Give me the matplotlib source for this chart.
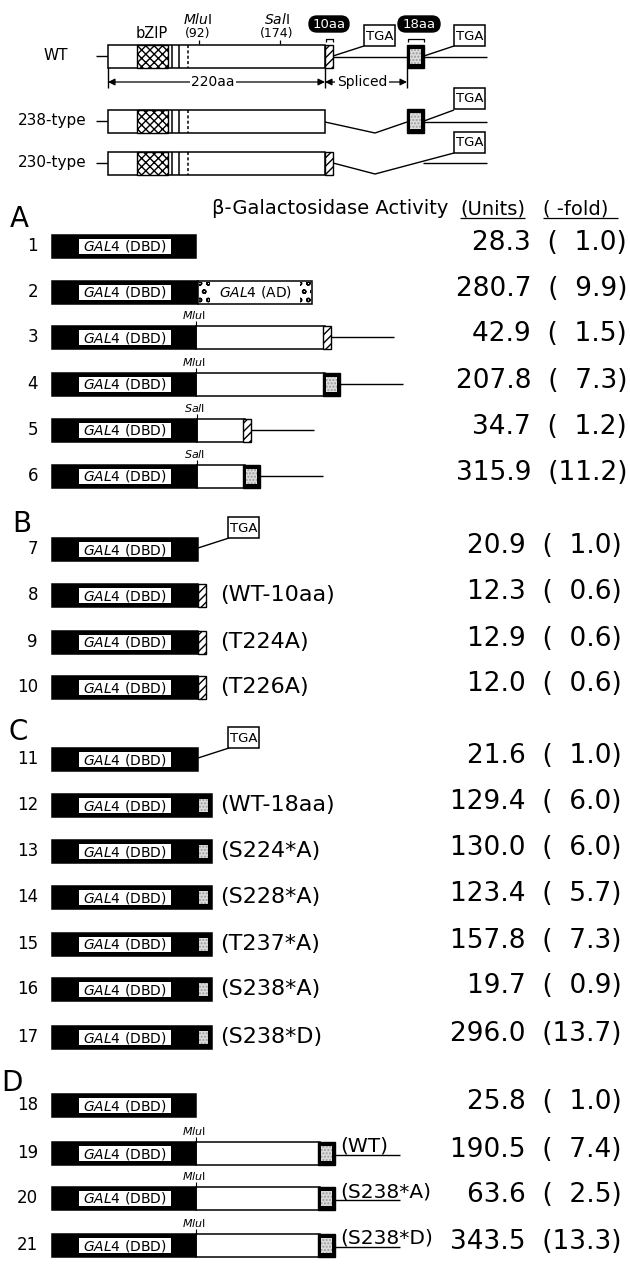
import matplotlib
matplotlib.use('Agg')
from matplotlib import pyplot as plt
from matplotlib.patches import Rectangle, FancyBboxPatch

# data
row_ids = [str(i) for i in range(1, 22)]
units = [28.3, 280.7, 42.9, 207.8, 34.7, 315.9,
         20.9, 12.3, 12.9, 12.0,
         21.6, 129.4, 130.0, 123.4, 157.8, 19.7, 296.0,
         25.8, 190.5, 63.6, 343.5]
fold = [1.0, 9.9, 1.5, 7.3, 1.2, 11.2,
        1.0, 0.6, 0.6, 0.6,
        1.0, 6.0, 6.0, 5.7, 7.3, 0.9, 13.7,
        1.0, 7.4, 2.5, 13.3]
constructs = ['dbd', 'ad', 'mlu10', 'mlu18', 'sal10', 'sal18',
              'tga', 'c10', 'c10', 'c10',
              'tga', 'c18', 'c18', 'c18', 'c18', 'c18', 'c18',
              'dbd', 'd18', 'd18', 'd18']
mutants = ['', '', '', '', '', '',
           '', '(WT-10aa)', '(T224A)', '(T226A)',
           '', '(WT-18aa)', '(S224*A)', '(S228*A)', '(T237*A)', '(S238*A)', '(S238*D)',
           '', '(WT)', '(S238*A)', '(S238*D)']
sections = ['A'] * 6 + ['B'] * 4 + ['C'] * 7 + ['D'] * 4
section_labels = ['A', 'B', 'C', 'D']

# layout (pixels)
row_y = [246, 292, 337, 384, 430, 476, 549, 595, 642, 687,
         759, 805, 851, 897, 944, 989, 1037, 1105, 1153, 1198, 1245]
sec_y = {'A': 219, 'B': 524, 'C': 732, 'D': 1083}
sec_x = {'A': 10, 'B': 12, 'C': 8, 'D': 1}
val_r = {'A': 627, 'B': 622, 'C': 622, 'D': 622}

plt.rcParams['hatch.linewidth'] = 1.0
fig = plt.figure(figsize=(6.3, 12.65), dpi=100)
ax = fig.add_axes([0, 0, 1, 1])
ax.set_xlim(0, 630)
ax.set_ylim(1265, 0)
ax.axis('off')

FS_NUM = 19
FIG_SP = '\u2007'


def box(x0, x1, y0, y1, fc='white', ec='black', hatch=None, lw=1.1, z=2):
    ax.add_patch(Rectangle((x0, y0), x1 - x0, y1 - y0, facecolor=fc,
                           edgecolor=ec, hatch=hatch, lw=lw, zorder=z))


def line(xs, ys, lw=1.0, z=1):
    ax.plot(xs, ys, color='black', lw=lw, solid_capstyle='butt', zorder=z)


def speck(x0, x1, y0, y1):
    box(x0, x1, y0, y1, fc='black', lw=1.0)
    box(x0 + 3, x1 - 3, y0 + 4, y1 - 4, fc='#dcdcdc', ec='#9a9a9a', hatch='.....', lw=0, z=3)


def tga(x0, y0):
    box(x0, x0 + 31, y0, y0 + 21, lw=1.1)
    ax.text(x0 + 15.5, y0 + 11, 'TGA', ha='center', va='center', fontsize=9.5, zorder=4)


def gal4(x0, x1, yc, h=11.5):
    box(x0, x1, yc - h, yc + h, fc='black')
    box(79, 171, yc - h + 4, yc + h - 4, fc='white', ec='white', lw=0, z=3)
    ax.text(125, yc + 0.5, r'$\mathit{GAL4}$ (DBD)', ha='center', va='center',
            fontsize=10, zorder=4)


def site(x, yc, name):
    ax.text(x - 2, yc - 16, name, ha='center', va='bottom', fontsize=8)
    line([x, x], [yc - 16, yc - 11.5], lw=0.8)


# ---------------- top schematic ----------------
def gene_box(yc, x_end, hatch_end):
    y0, y1 = yc - 11.5, yc + 11.5
    box(108, x_end, y0, y1)
    box(137, 168, y0, y1, hatch='xxxx', lw=1.0, z=3)
    line([172, 172], [y0, y1], lw=1.1, z=3)
    line([179, 179], [y0, y1], lw=1.1, z=3)
    ax.plot([188, 188], [y0, y1], color='black', lw=1.1, ls=(0, (2, 1.5)), zorder=3)
    if hatch_end:
        box(x_end, x_end + 8, y0, y1, hatch='////', lw=1.0)


for lab, yc in [('WT', 56), ('238-type', 121), ('230-type', 163)]:
    ax.text(87 if lab != 'WT' else 68, yc, lab, ha='right', va='center', fontsize=11)
    line([96, 108], [yc, yc])

gene_box(56, 325, True)
gene_box(121, 325, False)
gene_box(163, 325, True)

# WT tail
line([333, 407], [57, 57])
speck(407, 424, 45, 68)
line([424, 487], [57, 57])
line([333, 364], [56, 46])
tga(364, 25)
line([424, 454], [56, 46])
tga(454, 25)

# 238-type tail
line([325, 375, 407], [122, 133, 122])
speck(407, 424, 109, 133)
line([424, 487], [122, 122])
line([424, 454], [121, 110])
tga(454, 88)

# 230-type tail
line([333, 375, 454], [163, 174, 153])
line([423, 487], [163, 163])
tga(454, 132)

# labels above WT
ax.text(152, 33, 'bZIP', ha='center', va='center', fontsize=10.5)
ax.text(198, 20, r'$\mathit{Mlu}$I', ha='center', va='center', fontsize=10)
ax.text(198, 34, '(92)', ha='center', va='center', fontsize=9)
line([199, 199], [40, 44], lw=0.9)
ax.text(277, 20, r'$\mathit{Sal}$I', ha='center', va='center', fontsize=10)
ax.text(277, 34, '(174)', ha='center', va='center', fontsize=9)
line([280, 280], [40, 44], lw=0.9)
for txt, x0, x1 in [('10aa', 309, 349), ('18aa', 398, 440)]:
    ax.add_patch(FancyBboxPatch((x0, 16), x1 - x0, 16,
                                boxstyle='round,pad=0,rounding_size=8',
                                facecolor='black', edgecolor='black'))
    ax.text((x0 + x1) / 2, 24.5, txt, ha='center', va='center', color='white',
            fontsize=9.5)
line([326, 326, 333, 333], [42, 38.5, 38.5, 42], lw=0.9)
line([408, 408, 424, 424], [42, 38.5, 38.5, 42], lw=0.9)

# length arrows
line([108, 108], [67, 88])
line([325, 325], [67, 88])
line([407, 407], [68, 88])
ax.annotate('', xy=(108, 82), xytext=(325, 82),
            arrowprops=dict(arrowstyle='<|-|>', color='black', lw=0.9,
                            shrinkA=0, shrinkB=0, mutation_scale=10))
ax.annotate('', xy=(325, 82), xytext=(407, 82),
            arrowprops=dict(arrowstyle='<|-|>', color='black', lw=0.9,
                            shrinkA=0, shrinkB=0, mutation_scale=10))
ax.text(213, 82, '220aa', ha='center', va='center', fontsize=10,
        bbox=dict(facecolor='white', edgecolor='none', pad=1))
ax.text(362, 82, 'Spliced', ha='center', va='center', fontsize=10,
        bbox=dict(facecolor='white', edgecolor='none', pad=1))

# ---------------- header ----------------
ax.text(212, 209, 'β-Galactosidase Activity', ha='left', va='center', fontsize=14)
ax.text(460, 209, '(Units)', ha='left', va='center', fontsize=14)
ax.text(543, 209, '( -fold)', ha='left', va='center', fontsize=14)
line([460, 525], [218, 218], lw=0.9)
line([543, 618], [218, 218], lw=0.9)

for s in section_labels:
    ax.text(sec_x[s], sec_y[s], s, ha='left', va='center', fontsize=20)

# ---------------- constructs ----------------
for i, kind in enumerate(constructs):
    yc = row_y[i]
    s = sections[i]
    ax.text(38, yc, row_ids[i], ha='right', va='center', fontsize=12)
    y0, y1 = yc - 11.5, yc + 11.5
    if kind == 'dbd':
        gal4(52, 196, yc)
    elif kind == 'ad':
        gal4(52, 198, yc)
        box(198, 312, y0, y1)
        box(199, 210, y0 + 1, y1 - 1, fc='white', ec='black', hatch='oo', lw=0, z=3)
        box(300, 311, y0 + 1, y1 - 1, fc='white', ec='black', hatch='oo', lw=0, z=3)
        ax.text(255, yc + 0.5, r'$\mathit{GAL4}$ (AD)', ha='center', va='center',
                fontsize=10, zorder=4)
    elif kind in ('mlu10', 'mlu18', 'sal10', 'sal18', 'd18'):
        mlu = kind.startswith('mlu') or kind == 'd18'
        cut = 196 if mlu else 197
        end = 323 if mlu else 243
        if kind == 'd18':
            end = 318
        box(cut, end + 2, y0, y1)
        gal4(52, cut, yc)
        site(cut, yc, r'$\mathit{Mlu}$I' if mlu else r'$\mathit{Sal}$I')
        if kind.endswith('10'):
            box(end, end + 8, y0, y1, hatch='////', lw=1.0)
            tail = end + 8
        else:
            speck(end, end + 17, y0, y1)
            tail = end + 17
        if kind == 'd18':
            line([tail, 400], [yc + 2, yc + 2])
            ax.text(340, yc + 3, mutants[i], ha='left', va='bottom', fontsize=14.5)
        else:
            line([tail, tail + 63], [yc, yc])
    elif kind == 'tga':
        gal4(52, 198, yc)
        line([198, 229], [yc - 1, yc - 11])
        tga(228, yc - 32)
    elif kind == 'c10':
        gal4(52, 198, yc)
        box(198, 206, y0, y1, hatch='////', lw=1.0)
    elif kind == 'c18':
        gal4(52, 212, yc)
        box(199, 208, y0 + 5, y1 - 5, fc='#dcdcdc', ec='#9a9a9a', hatch='.....', lw=0, z=3)

    if mutants[i] and kind != 'd18':
        ax.text(220, yc, mutants[i], ha='left', va='center', fontsize=16)

    # activity values
    fold_txt = f'{fold[i]:4.1f}'.replace(' ', FIG_SP)
    ax.text(val_r[s], yc - 3, f'{units[i]:.1f}  ({fold_txt})', ha='right',
            va='center', fontsize=FS_NUM)

fig.savefig('out.png', dpi=100)
